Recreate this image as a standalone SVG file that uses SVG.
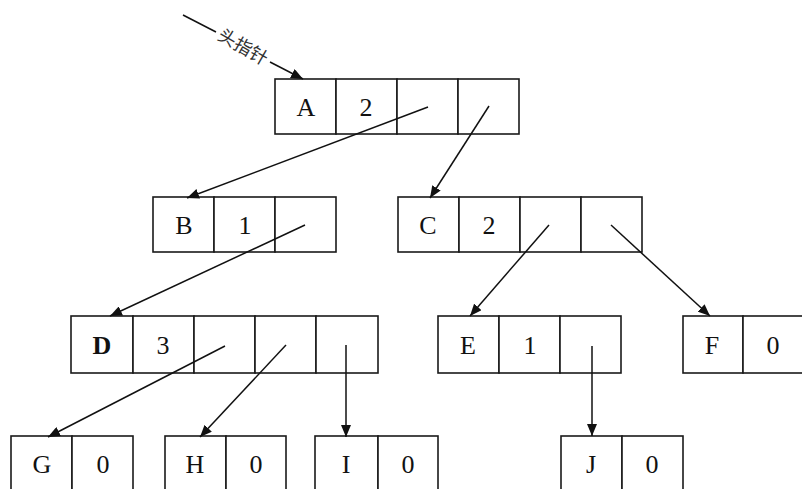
<svg xmlns="http://www.w3.org/2000/svg" width="802" height="489" viewBox="0 0 802 489">
<style>
.cell{fill:#fff;stroke:#1a1a1a;stroke-width:1.6}
.t{font-family:"Liberation Serif","Times New Roman",serif;font-size:26px;fill:#111;text-anchor:middle}
.c{stroke:#111;stroke-width:1.5;fill:none}
.a{marker-end:url(#ah)}
.lbl{font-family:"Noto Sans CJK SC","Noto Sans",sans-serif;font-size:18px;fill:#333}
</style>
<defs>
<marker id="ah" markerUnits="userSpaceOnUse" markerWidth="12" markerHeight="10" refX="12" refY="5" orient="auto">
<path d="M0,0 L12,5 L0,10 z" fill="#111"/>
</marker>
</defs>
<rect width="802" height="489" fill="#fff"/>

<g id="A">
<rect class="cell" x="275" y="79" width="61" height="55"/>
<rect class="cell" x="336" y="79" width="61" height="55"/>
<rect class="cell" x="397" y="79" width="61" height="55"/>
<rect class="cell" x="458" y="79" width="61" height="55"/>
<text class="t" x="306" y="116">A</text>
<text class="t" x="366" y="116">2</text>
</g>
<g id="B">
<rect class="cell" x="153" y="197" width="61" height="55"/>
<rect class="cell" x="214" y="197" width="61" height="55"/>
<rect class="cell" x="275" y="197" width="61" height="55"/>
<text class="t" x="184" y="234">B</text>
<text class="t" x="245" y="234">1</text>
</g>
<g id="C">
<rect class="cell" x="398" y="197" width="61" height="55"/>
<rect class="cell" x="459" y="197" width="61" height="55"/>
<rect class="cell" x="520" y="197" width="61" height="55"/>
<rect class="cell" x="581" y="197" width="61" height="55"/>
<text class="t" x="428" y="234">C</text>
<text class="t" x="489" y="234">2</text>
</g>
<g id="D">
<rect class="cell" x="71" y="316" width="62" height="57"/>
<rect class="cell" x="133" y="316" width="61" height="57"/>
<rect class="cell" x="194" y="316" width="61" height="57"/>
<rect class="cell" x="255" y="316" width="61" height="57"/>
<rect class="cell" x="316" y="316" width="62" height="57"/>
<text class="t" x="102" y="354" font-weight="bold">D</text>
<text class="t" x="163" y="354">3</text>
</g>
<g id="E">
<rect class="cell" x="438" y="316" width="61" height="57"/>
<rect class="cell" x="499" y="316" width="61" height="57"/>
<rect class="cell" x="560" y="316" width="61" height="57"/>
<text class="t" x="468" y="354">E</text>
<text class="t" x="530" y="354">1</text>
</g>
<g id="F">
<rect class="cell" x="683" y="316" width="60" height="57"/>
<rect class="cell" x="743" y="316" width="61" height="57"/>
<text class="t" x="712" y="354">F</text>
<text class="t" x="773" y="354">0</text>
</g>
<g id="G">
<rect class="cell" x="11" y="436" width="61" height="58"/>
<rect class="cell" x="72" y="436" width="61" height="58"/>
<text class="t" x="42" y="473">G</text>
<text class="t" x="103" y="473">0</text>
</g>
<g id="H">
<rect class="cell" x="165" y="436" width="61" height="58"/>
<rect class="cell" x="226" y="436" width="60" height="58"/>
<text class="t" x="195" y="473">H</text>
<text class="t" x="256" y="473">0</text>
</g>
<g id="I">
<rect class="cell" x="315" y="436" width="63" height="58"/>
<rect class="cell" x="378" y="436" width="60" height="58"/>
<text class="t" x="346" y="473">I</text>
<text class="t" x="408" y="473">0</text>
</g>
<g id="J">
<rect class="cell" x="561" y="436" width="61" height="58"/>
<rect class="cell" x="622" y="436" width="61" height="58"/>
<text class="t" x="591" y="473">J</text>
<text class="t" x="652" y="473">0</text>
</g>

<g id="head">
<line class="c" x1="183" y1="15" x2="216" y2="32"/>
<line class="c a" x1="270" y1="62" x2="303" y2="79"/>
<text class="lbl" x="243" y="53" text-anchor="middle" transform="rotate(30 243 47)">头指针</text>
</g>

<g id="connectors">
<line class="c a" x1="428" y1="107" x2="187" y2="198"/>
<line class="c a" x1="489" y1="106" x2="430" y2="198"/>
<line class="c a" x1="305" y1="225" x2="110" y2="316"/>
<line class="c a" x1="549" y1="225" x2="470" y2="316"/>
<line class="c a" x1="611" y1="225" x2="710" y2="316"/>
<line class="c a" x1="225" y1="346" x2="48" y2="437"/>
<line class="c a" x1="286" y1="345" x2="200" y2="437"/>
<line class="c a" x1="346" y1="345" x2="346" y2="437"/>
<line class="c a" x1="592" y1="346" x2="592" y2="436"/>
</g>
</svg>
